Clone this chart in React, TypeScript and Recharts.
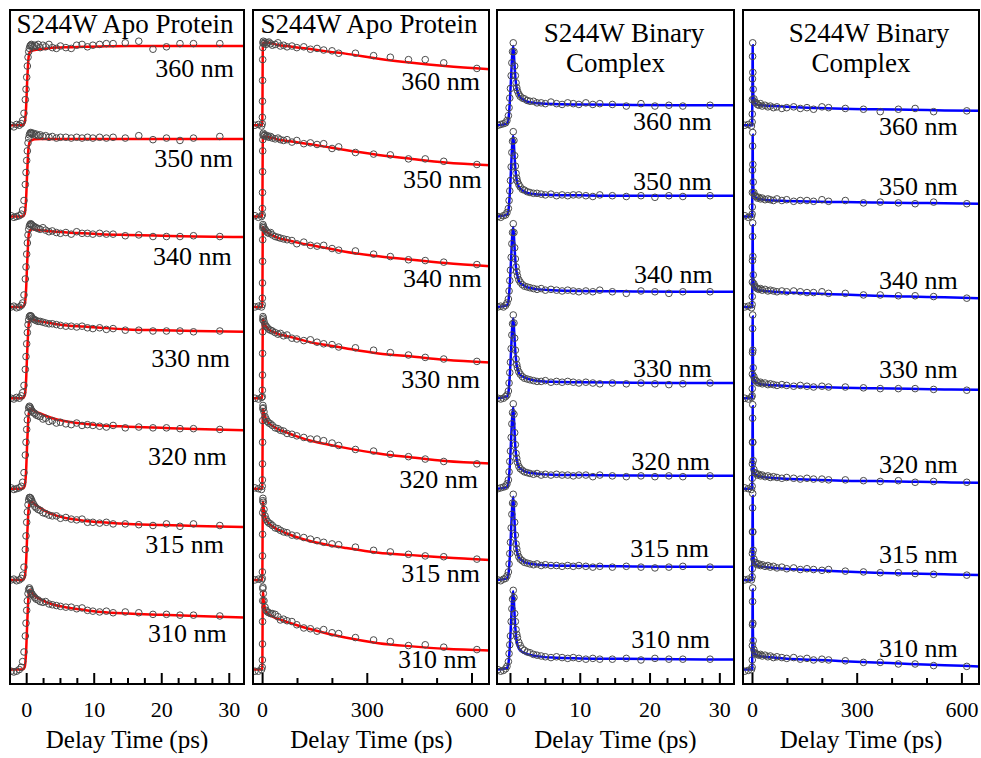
import { ComposedChart, Line, Scatter, XAxis, YAxis } from 'recharts'

const FONT = 'Liberation Serif, Times New Roman, DejaVu Serif, Noto Serif, serif'
const RED = '#ff0000'
const BLUE = '#0000ff'
const CIRCLE = '#4a4a4a'

const WAVELENGTHS = ['360 nm', '350 nm', '340 nm', '330 nm', '320 nm', '315 nm', '310 nm']
// stacking offset of each trace (normalised amplitude units)
const OFFSETS = [6.8, 5.66, 4.53, 3.39, 2.26, 1.12, 0]
const Y_DOMAIN: [number, number] = [-0.18, 8.24]

const TICKS_SHORT = [0, 2.5, 5, 7.5, 10, 12.5, 15, 17.5, 20, 22.5, 25, 27.5, 30]
const MAJOR_SHORT = [0, 10, 20, 30]
const TICKS_LONG = [0, 100, 200, 300, 400, 500, 600]
const MAJOR_LONG = [0, 300, 600]

// delay times of the measured points (ps)
const T_APO_SHORT = [-2.3, -1.9, -1.5, -1.1, -0.8, -0.6, -0.4, -0.2, -0.1, 0, 0.1, 0.2, 0.3, 0.4, 0.5, 0.6, 0.7, 0.8,
  1.0, 1.2, 1.4, 1.7, 2.0, 2.4, 2.8, 3.3, 3.8, 4.4, 5.0, 5.8, 6.6, 7.4, 8.2, 9.0, 9.8, 10.8, 11.8, 12.8, 14.6, 16.6, 18.7, 20.7, 22.7, 24.7, 28.6]
const T_BIN_SHORT = [-1.8, -1.4, -1.0, -0.7, -0.5, -0.3, -0.2, -0.1, 0, 0.1, 0.2, 0.3, 0.4, 0.5, 0.6, 0.7, 0.8, 0.9,
  1.0, 1.2, 1.4, 1.7, 2.0, 2.4, 2.8, 3.3, 3.8, 4.4, 5.0, 5.8, 6.6, 7.4, 8.2, 9.0, 9.8, 10.8, 11.8, 12.8, 14.6, 16.6, 18.7, 20.7, 22.7, 24.7, 28.6]
const T_LONG = [-22, -12, -3, -1, -0.6, -0.3, 0, 0.3, 0.6,
  1, 2, 4, 7, 10, 14, 18, 23, 28, 36, 44, 51, 60, 70, 84, 98, 118, 137, 156, 175, 199, 218, 266, 318, 366, 418, 466, 519, 614]

// apo protein, 0-30 ps window (rows: 360 ... 310 nm)
const APO_SHORT = [
  [0.0, -0.02, 0.01, 0.0, 0.02, 0.06, 0.15, 0.32, 0.45, 0.6, 0.74, 0.85, 0.92, 0.96, 0.99, 1.0, 1.01, 0.99,
    0.98, 1.0, 0.99, 1.01, 0.97, 1.0, 0.98, 1.01, 0.97, 0.96, 0.99, 0.97, 0.96, 1.0, 1.01, 0.98, 1.0, 1.01, 1.02, 1.02, 1.03, 1.05, 0.95, 0.98, 1.02, 1.02, 1.02],
  [0.01, -0.01, 0.0, 0.01, 0.03, 0.08, 0.2, 0.4, 0.55, 0.7, 0.82, 0.92, 0.98, 1.02, 1.04, 1.05, 1.04, 1.03,
    1.04, 1.02, 1.03, 1.01, 1.02, 1.0, 1.01, 0.99, 1.0, 0.98, 0.99, 0.99, 0.98, 0.99, 0.98, 0.99, 0.98, 0.99, 0.98, 0.99, 0.98, 1.01, 0.96, 0.98, 0.95, 0.98, 1.0],
  [0.0, 0.01, -0.01, 0.0, 0.02, 0.05, 0.15, 0.35, 0.5, 0.66, 0.8, 0.9, 0.97, 1.01, 1.03, 1.04, 1.03, 1.02,
    1.01, 1.0, 0.99, 0.98, 0.97, 0.99, 0.96, 0.94, 0.95, 0.93, 0.92, 0.93, 0.91, 0.94, 0.92, 0.92, 0.91, 0.92, 0.91, 0.91, 0.89, 0.9, 0.88, 0.88, 0.88, 0.89, 0.88],
  [0.0, -0.01, 0.01, 0.0, 0.03, 0.07, 0.16, 0.36, 0.52, 0.68, 0.82, 0.92, 0.98, 1.02, 1.03, 1.03, 1.02, 1.0,
    0.99, 0.98, 0.97, 0.96, 0.96, 0.95, 0.94, 0.93, 0.93, 0.92, 0.91, 0.9, 0.9, 0.89, 0.9, 0.88, 0.87, 0.88, 0.86, 0.87, 0.85, 0.85, 0.84, 0.84, 0.84, 0.83, 0.84],
  [0.01, -0.01, 0.0, 0.01, 0.03, 0.08, 0.2, 0.42, 0.58, 0.74, 0.86, 0.95, 1.01, 1.03, 1.02, 1.0, 0.98, 0.97,
    0.95, 0.94, 0.92, 0.91, 0.9, 0.87, 0.88, 0.84, 0.85, 0.82, 0.83, 0.81, 0.8, 0.82, 0.79, 0.8, 0.79, 0.78, 0.77, 0.79, 0.76, 0.77, 0.76, 0.76, 0.75, 0.75, 0.74],
  [0.0, 0.01, -0.01, 0.0, 0.02, 0.06, 0.16, 0.38, 0.55, 0.72, 0.85, 0.94, 1.0, 1.03, 1.03, 1.02, 1.0, 0.98,
    0.95, 0.92, 0.9, 0.88, 0.87, 0.84, 0.83, 0.81, 0.8, 0.8, 0.77, 0.78, 0.76, 0.75, 0.76, 0.72, 0.72, 0.71, 0.72, 0.7, 0.7, 0.69, 0.68, 0.7, 0.67, 0.7, 0.68],
  [-0.02, -0.03, -0.02, 0.0, 0.03, 0.1, 0.22, 0.42, 0.58, 0.74, 0.86, 0.95, 1.0, 1.02, 1.0, 0.97, 0.95, 0.94,
    0.92, 0.9, 0.88, 0.87, 0.85, 0.84, 0.85, 0.82, 0.81, 0.8, 0.79, 0.78, 0.78, 0.76, 0.77, 0.74, 0.73, 0.72, 0.73, 0.71, 0.72, 0.71, 0.69, 0.69, 0.68, 0.68, 0.67],
]
const FIT_T_APO_SHORT = [-2.47, -0.6, -0.3, -0.1, 0.1, 0.3, 0.5, 0.8, 1.2, 2.0, 3.0, 4.5, 6.0, 8.5, 11.0, 15.0, 20.0, 25.0, 32.2]
const APO_SHORT_FIT = [
  [0, 0, 0.03, 0.2, 0.6, 0.86, 0.92, 0.93, 0.94, 0.95, 0.96, 0.97, 0.975, 0.98, 0.985, 0.99, 0.99, 0.99, 0.99],
  [0, 0, 0.03, 0.2, 0.6, 0.88, 0.94, 0.955, 0.965, 0.97, 0.97, 0.97, 0.97, 0.97, 0.97, 0.97, 0.97, 0.97, 0.97],
  [0, 0, 0.03, 0.2, 0.6, 0.9, 0.96, 0.97, 0.965, 0.96, 0.95, 0.94, 0.93, 0.92, 0.91, 0.9, 0.89, 0.88, 0.875],
  [0, 0, 0.03, 0.2, 0.62, 0.92, 0.98, 0.99, 0.975, 0.96, 0.945, 0.925, 0.91, 0.895, 0.88, 0.86, 0.85, 0.84, 0.83],
  [0, 0, 0.03, 0.2, 0.62, 0.93, 0.99, 0.99, 0.97, 0.94, 0.905, 0.865, 0.84, 0.81, 0.79, 0.775, 0.76, 0.745, 0.73],
  [0, 0, 0.03, 0.2, 0.6, 0.9, 0.97, 0.975, 0.945, 0.9, 0.85, 0.8, 0.77, 0.74, 0.72, 0.7, 0.685, 0.675, 0.66],
  [0, 0, 0.03, 0.2, 0.62, 0.94, 0.99, 0.955, 0.92, 0.88, 0.84, 0.8, 0.775, 0.745, 0.72, 0.7, 0.685, 0.67, 0.65],
]

// apo protein, 0-600 ps window
const APO_LONG = [
  [0.0, 0.01, -0.01, 0.02, 0.1, 0.3, 0.56, 0.82, 0.97,
    1.03, 1.05, 1.02, 1.04, 1.01, 1.03, 1.04, 1.02, 1.0, 1.01, 1.03, 0.99, 1.0, 0.98, 0.99, 0.97, 0.98, 0.95, 0.96, 0.94, 0.93, 0.9, 0.9, 0.87, 0.85, 0.82, 0.82, 0.78, 0.71],
  [0.01, -0.01, 0.0, 0.02, 0.1, 0.3, 0.56, 0.82, 0.96,
    1.02, 1.04, 1.01, 1.02, 1.0, 1.01, 0.99, 1.0, 0.98, 0.97, 0.98, 0.96, 0.95, 0.96, 0.93, 0.95, 0.91, 0.92, 0.9, 0.91, 0.85, 0.87, 0.8, 0.78, 0.77, 0.72, 0.72, 0.69, 0.65],
  [0.0, 0.01, 0.0, 0.03, 0.11, 0.3, 0.57, 0.84, 0.99,
    1.03, 1.01, 0.99, 0.97, 0.95, 0.93, 0.92, 0.93, 0.9, 0.88, 0.87, 0.86, 0.85, 0.84, 0.83, 0.79, 0.81, 0.77, 0.76, 0.77, 0.73, 0.71, 0.7, 0.66, 0.63, 0.59, 0.58, 0.56, 0.53],
  [0.0, -0.01, 0.01, 0.02, 0.1, 0.29, 0.56, 0.83, 0.98,
    1.02, 1.0, 0.96, 0.92, 0.9, 0.88, 0.86, 0.85, 0.84, 0.82, 0.8, 0.81, 0.78, 0.79, 0.75, 0.74, 0.72, 0.73, 0.7, 0.68, 0.67, 0.64, 0.63, 0.6, 0.57, 0.54, 0.51, 0.49, 0.46],
  [0.01, 0.0, -0.01, 0.03, 0.11, 0.31, 0.58, 0.85, 1.0,
    1.04, 1.01, 0.96, 0.9, 0.87, 0.84, 0.82, 0.81, 0.79, 0.76, 0.75, 0.73, 0.72, 0.69, 0.68, 0.66, 0.64, 0.62, 0.62, 0.6, 0.57, 0.54, 0.49, 0.47, 0.43, 0.4, 0.37, 0.34, 0.31],
  [0.0, 0.01, 0.0, 0.02, 0.1, 0.3, 0.57, 0.84, 0.99,
    1.02, 0.97, 0.88, 0.8, 0.76, 0.73, 0.71, 0.7, 0.68, 0.65, 0.64, 0.62, 0.6, 0.59, 0.56, 0.55, 0.53, 0.51, 0.49, 0.47, 0.45, 0.44, 0.41, 0.37, 0.35, 0.32, 0.3, 0.29, 0.26],
  [-0.02, -0.02, 0.0, 0.03, 0.12, 0.32, 0.6, 0.86, 1.01,
    1.03, 0.95, 0.86, 0.78, 0.74, 0.72, 0.71, 0.7, 0.7, 0.69, 0.66, 0.62, 0.63, 0.61, 0.6, 0.56, 0.52, 0.51, 0.48, 0.5, 0.46, 0.45, 0.4, 0.37, 0.35, 0.3, 0.31, 0.28, 0.25],
]
const FIT_T_APO_LONG = [-27.5, -1, -0.3, 0.3, 1, 3, 8, 17, 30, 46, 70, 94, 141, 190, 237, 332, 428, 523, 651]
const APO_LONG_FIT = [
  [0, 0, 0.3, 0.85, 1.02, 1.03, 1.03, 1.03, 1.02, 1.0, 0.99, 0.975, 0.95, 0.92, 0.895, 0.83, 0.78, 0.74, 0.7],
  [0, 0, 0.3, 0.84, 0.99, 1.0, 0.995, 0.99, 0.98, 0.96, 0.945, 0.93, 0.9, 0.865, 0.83, 0.77, 0.72, 0.675, 0.64],
  [0, 0, 0.3, 0.85, 1.0, 0.98, 0.95, 0.92, 0.89, 0.86, 0.835, 0.81, 0.77, 0.73, 0.69, 0.635, 0.59, 0.55, 0.51],
  [0, 0, 0.3, 0.85, 0.99, 0.96, 0.91, 0.86, 0.83, 0.8, 0.775, 0.75, 0.695, 0.66, 0.625, 0.56, 0.52, 0.48, 0.445],
  [0, 0, 0.3, 0.86, 1.0, 0.96, 0.89, 0.825, 0.78, 0.74, 0.7, 0.66, 0.595, 0.55, 0.51, 0.44, 0.39, 0.345, 0.315],
  [0, 0, 0.3, 0.85, 0.98, 0.9, 0.78, 0.71, 0.665, 0.625, 0.58, 0.54, 0.48, 0.435, 0.4, 0.34, 0.31, 0.28, 0.25],
  [0, 0, 0.3, 0.86, 0.98, 0.86, 0.75, 0.69, 0.66, 0.63, 0.595, 0.56, 0.5, 0.445, 0.4, 0.33, 0.29, 0.26, 0.24],
]

// binary complex, 0-30 ps window
const BIN_SHORT = [
  [0.0, 0.01, 0.02, 0.03, 0.06, 0.12, 0.22, 0.34, 0.46, 0.62, 0.78, 0.92, 1.03, 0.92, 0.74, 0.62, 0.53, 0.47,
    0.43, 0.39, 0.36, 0.34, 0.33, 0.31, 0.3, 0.3, 0.28, 0.28, 0.27, 0.29, 0.27, 0.26, 0.28, 0.27, 0.26, 0.28, 0.26, 0.27, 0.26, 0.24, 0.27, 0.24, 0.25, 0.24, 0.25],
  [0.0, -0.01, 0.01, 0.02, 0.05, 0.1, 0.2, 0.32, 0.45, 0.62, 0.8, 0.94, 1.06, 0.95, 0.76, 0.63, 0.54, 0.48,
    0.44, 0.4, 0.37, 0.34, 0.33, 0.31, 0.3, 0.29, 0.29, 0.28, 0.27, 0.28, 0.26, 0.27, 0.26, 0.27, 0.27, 0.26, 0.25, 0.27, 0.26, 0.25, 0.26, 0.24, 0.26, 0.25, 0.26],
  [0.0, 0.01, 0.0, 0.02, 0.05, 0.1, 0.2, 0.33, 0.46, 0.62, 0.79, 0.93, 1.04, 0.93, 0.74, 0.6, 0.5, 0.44,
    0.39, 0.34, 0.31, 0.28, 0.26, 0.25, 0.24, 0.23, 0.22, 0.23, 0.21, 0.22, 0.21, 0.2, 0.21, 0.2, 0.19, 0.2, 0.19, 0.21, 0.19, 0.17, 0.2, 0.19, 0.17, 0.19, 0.19],
  [0.0, -0.01, 0.0, 0.02, 0.04, 0.09, 0.19, 0.32, 0.45, 0.62, 0.79, 0.93, 1.04, 0.94, 0.75, 0.6, 0.49, 0.42,
    0.38, 0.33, 0.3, 0.27, 0.25, 0.24, 0.23, 0.22, 0.21, 0.21, 0.22, 0.2, 0.21, 0.2, 0.21, 0.2, 0.19, 0.2, 0.19, 0.18, 0.19, 0.18, 0.19, 0.18, 0.17, 0.18, 0.19],
  [0.0, 0.01, 0.02, 0.03, 0.06, 0.11, 0.21, 0.34, 0.47, 0.64, 0.81, 0.95, 1.06, 0.93, 0.7, 0.55, 0.44, 0.38,
    0.33, 0.28, 0.25, 0.23, 0.21, 0.2, 0.19, 0.18, 0.19, 0.17, 0.18, 0.17, 0.18, 0.17, 0.17, 0.16, 0.17, 0.17, 0.15, 0.17, 0.16, 0.15, 0.16, 0.15, 0.16, 0.15, 0.16],
  [0.0, -0.01, 0.01, 0.02, 0.05, 0.1, 0.2, 0.33, 0.47, 0.65, 0.82, 0.96, 1.07, 0.95, 0.72, 0.56, 0.45, 0.39,
    0.34, 0.29, 0.26, 0.24, 0.22, 0.21, 0.2, 0.19, 0.2, 0.18, 0.19, 0.18, 0.18, 0.17, 0.18, 0.17, 0.18, 0.17, 0.16, 0.17, 0.16, 0.17, 0.16, 0.15, 0.16, 0.17, 0.16],
  [0.0, -0.02, -0.01, 0.01, 0.04, 0.1, 0.2, 0.31, 0.42, 0.6, 0.76, 0.88, 0.99, 0.9, 0.7, 0.6, 0.5, 0.44,
    0.4, 0.34, 0.3, 0.26, 0.24, 0.22, 0.21, 0.19, 0.18, 0.17, 0.16, 0.15, 0.16, 0.15, 0.14, 0.15, 0.14, 0.13, 0.14, 0.13, 0.13, 0.14, 0.12, 0.14, 0.13, 0.13, 0.13],
]
const FIT_T_BIN_SHORT = [-1.93, -0.5, -0.3, -0.1, 0.1, 0.25, 0.4, 0.55, 0.7, 0.85, 1.0, 1.3, 1.7, 2.2, 3.0, 4.0, 6.0, 10.0, 16.0, 24.0, 32.0]
const BIN_SHORT_FIT = [
  [0, 0.02, 0.07, 0.28, 0.62, 0.88, 0.99, 0.8, 0.6, 0.48, 0.42, 0.36, 0.33, 0.3, 0.285, 0.275, 0.265, 0.26, 0.255, 0.25, 0.25],
  [0, 0.02, 0.07, 0.28, 0.63, 0.9, 1.01, 0.81, 0.6, 0.48, 0.41, 0.36, 0.33, 0.3, 0.285, 0.275, 0.27, 0.265, 0.26, 0.26, 0.26],
  [0, 0.02, 0.07, 0.28, 0.62, 0.89, 1.0, 0.8, 0.58, 0.45, 0.39, 0.31, 0.28, 0.255, 0.235, 0.22, 0.21, 0.2, 0.195, 0.19, 0.19],
  [0, 0.02, 0.07, 0.28, 0.62, 0.89, 1.0, 0.8, 0.58, 0.44, 0.37, 0.3, 0.275, 0.25, 0.23, 0.215, 0.205, 0.2, 0.195, 0.19, 0.19],
  [0, 0.02, 0.07, 0.28, 0.63, 0.9, 1.02, 0.78, 0.52, 0.39, 0.32, 0.26, 0.235, 0.21, 0.195, 0.185, 0.175, 0.17, 0.165, 0.16, 0.16],
  [0, 0.02, 0.07, 0.28, 0.64, 0.92, 1.04, 0.79, 0.53, 0.4, 0.33, 0.27, 0.24, 0.215, 0.2, 0.19, 0.18, 0.175, 0.17, 0.165, 0.165],
  [0, 0.02, 0.07, 0.28, 0.62, 0.88, 0.98, 0.75, 0.52, 0.38, 0.31, 0.25, 0.22, 0.2, 0.18, 0.165, 0.15, 0.14, 0.135, 0.13, 0.125],
]

// binary complex, 0-600 ps window
const BIN_LONG = [
  [0.0, 0.01, -0.01, 0.04, 0.14, 0.32, 0.58, 0.86, 1.03,
    0.66, 0.45, 0.33, 0.29, 0.28, 0.26, 0.25, 0.27, 0.24, 0.25, 0.23, 0.24, 0.22, 0.23, 0.21, 0.22, 0.23, 0.21, 0.22, 0.2, 0.23, 0.22, 0.21, 0.2, 0.17, 0.2, 0.21, 0.17, 0.18],
  [0.01, -0.01, 0.0, 0.03, 0.12, 0.3, 0.58, 0.88, 1.05,
    0.65, 0.43, 0.3, 0.26, 0.25, 0.23, 0.24, 0.22, 0.23, 0.21, 0.22, 0.21, 0.2, 0.22, 0.2, 0.21, 0.19, 0.2, 0.2, 0.19, 0.21, 0.19, 0.2, 0.17, 0.18, 0.17, 0.16, 0.18, 0.16],
  [0.0, 0.01, -0.01, 0.03, 0.13, 0.31, 0.58, 0.88, 1.05,
    0.63, 0.4, 0.29, 0.26, 0.24, 0.23, 0.22, 0.23, 0.21, 0.22, 0.2, 0.21, 0.2, 0.19, 0.2, 0.19, 0.2, 0.19, 0.18, 0.18, 0.19, 0.17, 0.17, 0.15, 0.15, 0.14, 0.14, 0.13, 0.11],
  [0.0, -0.01, 0.01, 0.03, 0.12, 0.3, 0.57, 0.87, 1.04,
    0.6, 0.38, 0.27, 0.23, 0.22, 0.2, 0.19, 0.2, 0.18, 0.19, 0.17, 0.18, 0.17, 0.16, 0.17, 0.16, 0.15, 0.16, 0.15, 0.14, 0.15, 0.14, 0.14, 0.13, 0.12, 0.12, 0.12, 0.11, 0.1],
  [0.01, 0.0, -0.01, 0.03, 0.13, 0.31, 0.58, 0.88, 1.05,
    0.58, 0.35, 0.24, 0.2, 0.19, 0.17, 0.18, 0.16, 0.17, 0.15, 0.16, 0.14, 0.15, 0.14, 0.13, 0.14, 0.13, 0.12, 0.13, 0.12, 0.12, 0.11, 0.11, 0.1, 0.09, 0.1, 0.08, 0.09, 0.08],
  [0.0, 0.01, 0.0, 0.04, 0.14, 0.33, 0.6, 0.9, 1.08,
    0.6, 0.37, 0.26, 0.22, 0.21, 0.19, 0.2, 0.18, 0.19, 0.17, 0.18, 0.16, 0.17, 0.15, 0.16, 0.14, 0.15, 0.13, 0.14, 0.13, 0.12, 0.13, 0.11, 0.1, 0.09, 0.09, 0.08, 0.07, 0.06],
  [-0.02, -0.01, 0.0, 0.03, 0.12, 0.3, 0.56, 0.85, 1.02,
    0.58, 0.36, 0.25, 0.21, 0.2, 0.19, 0.18, 0.19, 0.17, 0.18, 0.16, 0.17, 0.15, 0.16, 0.15, 0.14, 0.15, 0.13, 0.14, 0.12, 0.13, 0.12, 0.11, 0.09, 0.09, 0.07, 0.07, 0.05, 0.04],
]
const FIT_T_BIN_LONG = [-27.2, -1, -0.3, 0.2, 0.5, 1, 2, 4, 8, 15, 25, 40, 60, 90, 130, 190, 260, 350, 450, 550, 649]
const BIN_LONG_FIT = [
  [0, 0, 0.35, 0.85, 1.0, 0.62, 0.42, 0.3, 0.27, 0.255, 0.25, 0.245, 0.24, 0.235, 0.225, 0.215, 0.205, 0.2, 0.195, 0.185, 0.18],
  [0, 0, 0.35, 0.86, 1.02, 0.62, 0.4, 0.28, 0.245, 0.225, 0.215, 0.205, 0.2, 0.195, 0.19, 0.185, 0.18, 0.175, 0.17, 0.165, 0.16],
  [0, 0, 0.35, 0.86, 1.02, 0.6, 0.38, 0.27, 0.235, 0.215, 0.205, 0.198, 0.19, 0.182, 0.175, 0.165, 0.155, 0.14, 0.13, 0.12, 0.11],
  [0, 0, 0.35, 0.86, 1.02, 0.58, 0.36, 0.25, 0.21, 0.19, 0.175, 0.168, 0.162, 0.155, 0.148, 0.14, 0.132, 0.125, 0.118, 0.11, 0.105],
  [0, 0, 0.35, 0.86, 1.03, 0.56, 0.33, 0.22, 0.18, 0.16, 0.148, 0.14, 0.132, 0.125, 0.118, 0.11, 0.1, 0.095, 0.088, 0.08, 0.075],
  [0, 0, 0.35, 0.87, 1.05, 0.58, 0.35, 0.24, 0.2, 0.18, 0.165, 0.16, 0.15, 0.14, 0.13, 0.12, 0.105, 0.09, 0.08, 0.07, 0.062],
  [0, 0, 0.35, 0.85, 1.0, 0.56, 0.34, 0.23, 0.19, 0.175, 0.165, 0.158, 0.15, 0.14, 0.13, 0.12, 0.105, 0.09, 0.07, 0.055, 0.04],
]

// panel frames (x of left / right border) and text placement
const PANELS = [
  { left: 10, right: 244, domain: [-2.47, 32.18], ticks: TICKS_SHORT, majors: MAJOR_SHORT, t: T_APO_SHORT, obs: APO_SHORT, fitT: FIT_T_APO_SHORT, fit: APO_SHORT_FIT, color: RED },
  { left: 252.7, right: 489.5, domain: [-27.5, 651], ticks: TICKS_LONG, majors: MAJOR_LONG, t: T_LONG, obs: APO_LONG, fitT: FIT_T_APO_LONG, fit: APO_LONG_FIT, color: RED },
  { left: 497.2, right: 734, domain: [-1.93, 32.0], ticks: TICKS_SHORT, majors: MAJOR_SHORT, t: T_BIN_SHORT, obs: BIN_SHORT, fitT: FIT_T_BIN_SHORT, fit: BIN_SHORT_FIT, color: BLUE },
  { left: 742.8, right: 978.8, domain: [-27.2, 649], ticks: TICKS_LONG, majors: MAJOR_LONG, t: T_LONG, obs: BIN_LONG, fitT: FIT_T_BIN_LONG, fit: BIN_LONG_FIT, color: BLUE },
]
const PLOT_TOP = 10
const PLOT_BOTTOM = 684

const TITLES = [
  { x: 125, y: 33, text: 'S244W Apo Protein' },
  { x: 369, y: 33, text: 'S244W Apo Protein' },
  { x: 624, y: 42, text: 'S244W Binary' },
  { x: 615.5, y: 72, text: 'Complex' },
  { x: 869, y: 42, text: 'S244W Binary' },
  { x: 861, y: 72, text: 'Complex' },
]
const LABEL_RIGHT = [
  [234, 233, 231.7, 230, 226.7, 224, 226.7],
  [480, 481.7, 481.7, 480, 478, 480, 476.7],
  [711.7, 711.7, 712.7, 711.7, 710, 709, 710],
  [957.7, 957.7, 957.7, 957.7, 957.7, 957.7, 957.7],
]
const LABEL_BASE = [
  [77, 167, 265, 367, 465, 553, 642],
  [90, 188, 287, 388, 488, 582, 668],
  [130, 190, 283, 377, 470, 557, 648],
  [135, 195, 289, 378, 473, 563, 657],
]

const makeTick = (majors: number[]) => (props: any) => {
  const { x, y, payload } = props
  const major = majors.includes(payload.value)
  return (
    <g>
      <line x1={x} x2={x} y1={y} y2={y - (major ? 11 : 6)} stroke="#000" strokeWidth={2} />
      {major && (
        <text x={x} y={y + 33} textAnchor="middle" fontSize={22} style={{ fontFamily: FONT }} fill="#000">
          {payload.value}
        </text>
      )}
    </g>
  )
}

function Panel({ p }: { p: (typeof PANELS)[number] }) {
  const width = p.right - p.left + 2
  return (
    <>
      <div style={{ position: 'absolute', left: p.left - 1, top: PLOT_TOP - 1 }}>
        <ComposedChart width={width} height={758 - PLOT_TOP + 1} margin={{ top: 1, right: 1, bottom: 0, left: 1 }}>
          <XAxis
            type="number"
            dataKey="t"
            domain={p.domain}
            allowDataOverflow
            ticks={p.ticks}
            interval={0}
            tickSize={0}
            tickMargin={0}
            tickLine={false}
            tick={makeTick(p.majors)}
            axisLine={false}
            height={758 - PLOT_BOTTOM}
            label={{ value: 'Delay Time (ps)', position: 'insideBottom', offset: 10, fontSize: 25, style: { fontFamily: FONT }, fill: '#000' }}
          />
          <YAxis type="number" dataKey="v" domain={Y_DOMAIN} allowDataOverflow width={0} tick={false} tickLine={false} axisLine={false} />
          {p.obs.map((row, i) => (
            <Scatter
              key={`obs-${i}`}
              data={p.t.map((t, j) => ({ t, v: row[j] + OFFSETS[i] }))}
              dataKey="v"
              isAnimationActive={false}
              shape={(s: any) => <circle cx={s.cx} cy={s.cy} r={3.3} fill="none" stroke={CIRCLE} strokeWidth={1} />}
            />
          ))}
          {p.fit.map((row, i) => (
            <Line
              key={`fit-${i}`}
              data={p.fitT.map((t, j) => ({ t, v: row[j] + OFFSETS[i] }))}
              dataKey="v"
              type="monotone"
              stroke={p.color}
              strokeWidth={2.5}
              dot={false}
              activeDot={false}
              isAnimationActive={false}
            />
          ))}
        </ComposedChart>
      </div>
      {/* plot frame */}
      <div
        style={{
          position: 'absolute',
          left: p.left - 1,
          top: PLOT_TOP - 1,
          width: p.right - p.left + 2,
          height: PLOT_BOTTOM - PLOT_TOP + 2,
          border: '2px solid #000',
          boxSizing: 'border-box',
          pointerEvents: 'none',
        }}
      />
    </>
  )
}

export default function App() {
  return (
    <div style={{ position: 'absolute', left: 0, top: 0, width: 981, height: 758, background: '#fff', overflow: 'hidden', fontFamily: FONT }}>
      {PANELS.map((p, i) => (
        <Panel key={i} p={p} />
      ))}
      <svg width={981} height={758} style={{ position: 'absolute', left: 0, top: 0, pointerEvents: 'none', fontFamily: FONT }}>
        {TITLES.map((t, i) => (
          <text key={i} x={t.x} y={t.y} textAnchor="middle" fontSize={27} fill="#000">
            {t.text}
          </text>
        ))}
        {LABEL_RIGHT.map((xs, pi) =>
          WAVELENGTHS.map((w, i) => (
            <text key={`${pi}-${i}`} x={xs[i]} y={LABEL_BASE[pi][i]} textAnchor="end" fontSize={26} fill="#000">
              {w}
            </text>
          ))
        )}
      </svg>
    </div>
  )
}
